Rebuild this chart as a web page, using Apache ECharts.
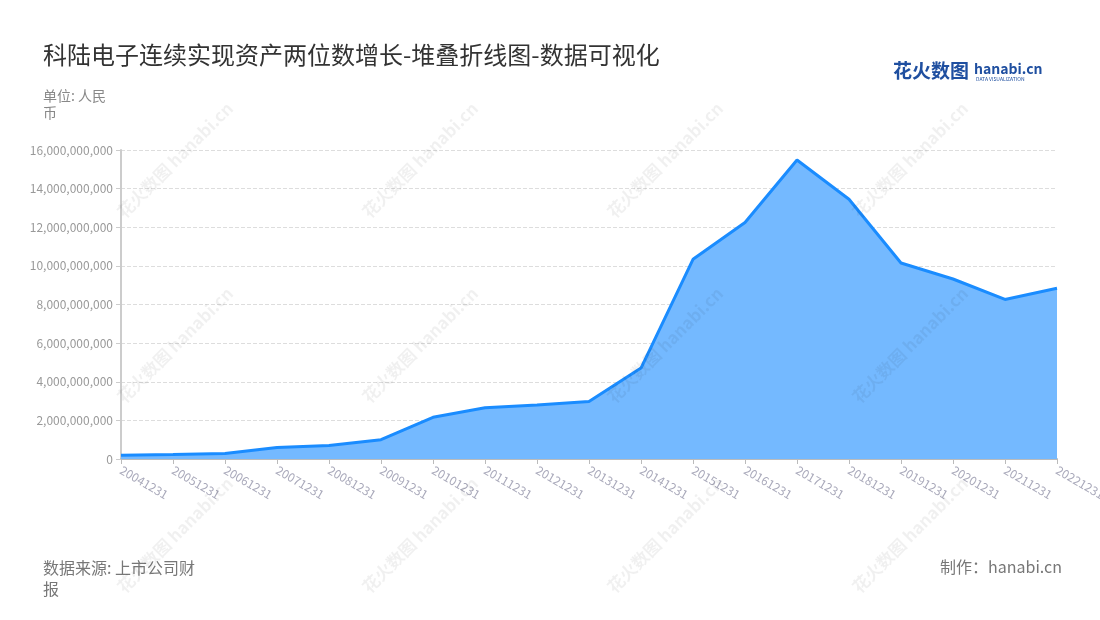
<!DOCTYPE html>
<html><head><meta charset="utf-8">
<script src="https://cdn.jsdelivr.net/npm/echarts@6/dist/echarts.min.js"></script>
<style>html,body{margin:0;padding:0;background:#fff}#c{width:1100px;height:620px}</style>
</head><body><div id="c"></div>
<script>
const categories = ['20041231','20051231','20061231','20071231','20081231','20091231','20101231','20111231','20121231','20131231','20141231','20151231','20161231','20171231','20181231','20191231','20201231','20211231','20221231'];
const totalAssets = [0.20e9,0.23e9,0.28e9,0.60e9,0.70e9,1.00e9,2.16e9,2.65e9,2.80e9,2.98e9,4.71e9,10.34e9,12.25e9,15.48e9,13.45e9,10.15e9,9.32e9,8.26e9,8.84e9];
const titleText = '科陆电子连续实现资产两位数增长-堆叠折线图-数据可视化';
const unitText = '单位: 人民币';
const sourceText = '数据来源: 上市公司财报';
const creditText = '制作：hanabi.cn';

const font = '"Noto Sans CJK SC","Noto Sans",sans-serif';
const wm = [];
const wmPos = [[175,160],[420,160],[665,160],[910,160],[175,345],[420,345],[665,345],[910,345],[175,535],[420,535],[665,535],[910,535]];
wmPos.forEach(p => {
  wm.push({type:'text', x:p[0], y:p[1], rotation:Math.PI/4, z:100,
    style:{text:'花火数图 hanabi.cn', font:'bold 17px ' + font, fill:'rgba(0,0,0,0.06)', align:'center', verticalAlign:'middle'}});
});
const chart = echarts.init(document.getElementById('c'));
chart.setOption({
  backgroundColor:'#fff',
  animation:false,
  title:[
    {text:titleText, left:38, top:38, textStyle:{fontFamily:font, fontSize:24, fontWeight:'normal', color:'#333'}},
    {text:unitText, left:38, top:82, textStyle:{fontFamily:font, fontSize:14, fontWeight:'normal', color:'#888', width:70, overflow:'break', lineHeight:17}},
    {text:sourceText, left:38, top:552, textStyle:{fontFamily:font, fontSize:16, fontWeight:'normal', color:'#777', width:172, overflow:'break', lineHeight:21}},
    {text:creditText, right:33, top:554, textStyle:{fontFamily:font, fontSize:16, fontWeight:'normal', color:'#777'}}
  ],
  graphic:[
    {type:'text', left:893, top:61, style:{text:'花火数图', font:'bold 19px ' + font, fill:'#1f4fa0'}},
    {type:'text', left:974, top:62, style:{text:'hanabi.cn', font:'bold 14px ' + font, fill:'#1f4fa0'}},
    {type:'text', left:976, top:77, style:{text:'DATA VISUALIZATION', font:'5px ' + font, fill:'#1f4fa0'}}
  ].concat(wm),
  grid:{left:121, right:43, top:150, bottom:161, containLabel:false, outerBoundsMode:'none'},
  xAxis:{
    type:'category', data:categories, boundaryGap:false,
    axisLine:{lineStyle:{color:'#bbb', width:2}},
    axisTick:{show:true, lineStyle:{color:'#bbb'}},
    axisLabel:{rotate:-30, color:'#aab', fontSize:12, fontFamily:font, interval:0, margin:10}
  },
  yAxis:{
    type:'value', min:0, max:16e9, interval:2e9,
    axisLine:{show:true, lineStyle:{color:'#ccc', width:2}},
    axisTick:{show:true, lineStyle:{color:'#ccc'}},
    axisLabel:{color:'#999', fontSize:12, fontFamily:font, formatter:v => v.toLocaleString('en-US')},
    splitLine:{lineStyle:{type:'dashed', color:'#ddd'}}
  },
  series:[{
    type:'line', data:totalAssets, stack:'total', symbol:'none',
    lineStyle:{color:'#1a8cff', width:3},
    areaStyle:{color:'#74b9ff', opacity:1},
    itemStyle:{color:'#1a8cff'}
  }]
});
</script></body></html>
